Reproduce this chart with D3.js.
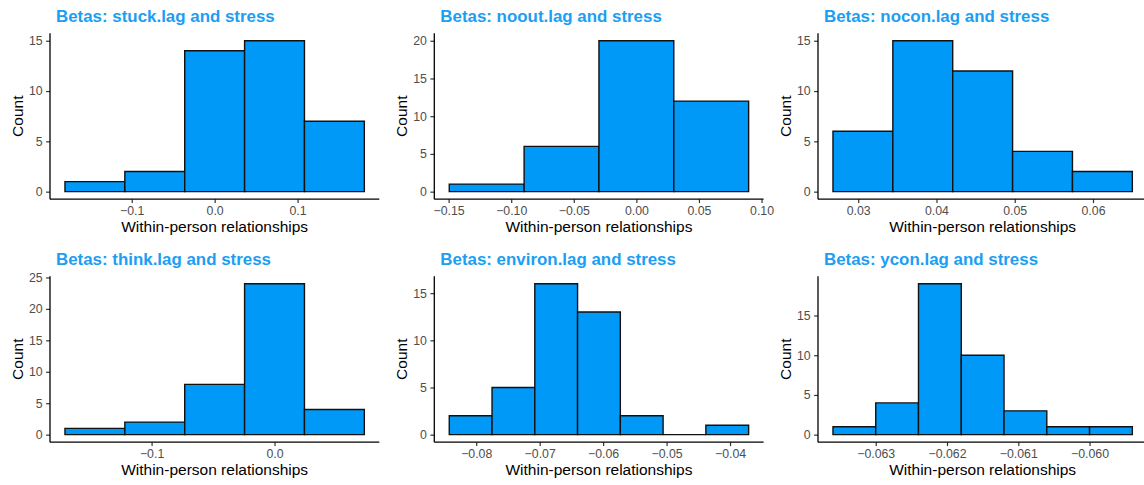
<!DOCTYPE html>
<html>
<head>
<meta charset="utf-8">
<script src="https://cdn.jsdelivr.net/npm/d3@7"></script>
<style>
  html, body { margin: 0; padding: 0; background: #ffffff; }
  svg { display: block; font-family: "Liberation Sans", Arial, Helvetica, sans-serif; }
</style>
</head>
<body>
<svg id="chart" width="1144" height="485"></svg>
<script>
// Histogram bins (edges) and counts of the person-level betas, one pair per predictor
const stuckEdges   = [-0.1805, -0.1083, -0.0361, 0.0361, 0.1083, 0.1805];
const stuckCounts  = [1, 2, 14, 15, 7];
const stuckTicks   = [-0.1, 0.0, 0.1];

const nooutEdges   = [-0.1495, -0.0897, -0.0299, 0.0299, 0.0897];
const nooutCounts  = [1, 6, 20, 12];
const nooutTicks   = [-0.15, -0.10, -0.05, 0.00, 0.05, 0.10];

const noconEdges   = [0.026775, 0.034425, 0.042075, 0.049725, 0.057375, 0.065025];
const noconCounts  = [6, 15, 12, 4, 2];
const noconTicks   = [0.03, 0.04, 0.05, 0.06];

const thinkEdges   = [-0.17045, -0.12175, -0.07305, -0.02435, 0.02435, 0.07305];
const thinkCounts  = [1, 2, 8, 24, 4];
const thinkTicks   = [-0.1, 0.0];

const environEdges  = [-0.08425, -0.07751, -0.07077, -0.06403, -0.05729, -0.05055, -0.04381, -0.03707];
const environCounts = [2, 5, 16, 13, 2, 0, 1];
const environTicks  = [-0.08, -0.07, -0.06, -0.05, -0.04];

const yconEdges    = [-0.0636, -0.0630, -0.0624, -0.0618, -0.0612, -0.0606, -0.0600, -0.0594];
const yconCounts   = [1, 4, 19, 10, 3, 1, 1];
const yconTicks    = [-0.063, -0.062, -0.061, -0.060];

const titles = [
  "Betas: stuck.lag and stress",
  "Betas: noout.lag and stress",
  "Betas: nocon.lag and stress",
  "Betas: think.lag and stress",
  "Betas: environ.lag and stress",
  "Betas: ycon.lag and stress"
];
const tickDigits = [1, 2, 2, 1, 2, 3];

const panels = [
  { edges: stuckEdges,   counts: stuckCounts,   ticks: stuckTicks },
  { edges: nooutEdges,   counts: nooutCounts,   ticks: nooutTicks },
  { edges: noconEdges,   counts: noconCounts,   ticks: noconTicks },
  { edges: thinkEdges,   counts: thinkCounts,   ticks: thinkTicks },
  { edges: environEdges, counts: environCounts, ticks: environTicks },
  { edges: yconEdges,    counts: yconCounts,    ticks: yconTicks }
].map((p, i) => Object.assign(p, { title: titles[i], digits: tickDigits[i] }));

// Layout of the 3 x 2 grid of panels
const colLeft = [50, 434.3, 818];
const rowTop = [33.2, 276.2];
const panelW = 329.3;
const panelH = 166;

const barFill = "#0099f7";
const titleColor = "#1c9ef2";
const tickLen = 3.9;

const svg = d3.select("#chart");

panels.forEach((p, i) => {
  const left = colLeft[i % 3];
  const top = rowTop[Math.floor(i / 3)];
  const g = svg.append("g").attr("transform", `translate(${left},${top})`);

  // 5% expansion on both axes, as in the original plotting defaults
  const x0 = p.edges[0], x1 = p.edges[p.edges.length - 1];
  const xPad = (x1 - x0) * 0.05;
  const x = d3.scaleLinear().domain([x0 - xPad, x1 + xPad]).range([0, panelW]);
  const yMax = d3.max(p.counts);
  const y = d3.scaleLinear().domain([-yMax * 0.05, yMax * 1.05]).range([panelH, 0]);

  const bins = p.counts.map((c, k) => ({ a: p.edges[k], b: p.edges[k + 1], n: c }));

  g.selectAll("path.bar")
    .data(bins)
    .join("path")
    .attr("class", "bar")
    .attr("d", d => `M${x(d.a)},${y(0)}V${y(d.n)}H${x(d.b)}V${y(0)}Z`)
    .attr("fill", barFill)
    .attr("stroke", "#111111")
    .attr("stroke-width", 1.4)
    .attr("stroke-linejoin", "miter");

  // x axis
  const xAxis = d3.axisBottom(x)
    .tickValues(p.ticks)
    .tickFormat(d3.format(`.${p.digits}f`))
    .tickSize(tickLen)
    .tickPadding(3.5);
  const gx = g.append("g").attr("transform", `translate(0,${panelH})`).call(xAxis);

  // y axis
  const yTicks = d3.range(0, yMax * 1.05 + 1e-9, 5);
  const yAxis = d3.axisLeft(y)
    .tickValues(yTicks)
    .tickFormat(d3.format("d"))
    .tickSize(tickLen)
    .tickPadding(3.5);
  const gy = g.append("g").call(yAxis);

  [gx, gy].forEach(ax => {
    ax.select(".domain").remove();
    ax.selectAll(".tick line").attr("stroke", "#333333").attr("stroke-width", 1.2);
    ax.selectAll(".tick text")
      .attr("fill", "#4d4d4d")
      .style("font-size", "12.3px")
      .style("font-family", '"Liberation Sans", Arial, Helvetica, sans-serif');
  });
  gx.selectAll(".tick text").attr("dy", "0.71em");

  // axis lines (classic theme)
  g.append("line")
    .attr("x1", 0).attr("x2", 0).attr("y1", 0).attr("y2", panelH)
    .attr("stroke", "#000000").attr("stroke-width", 1.3);
  g.append("line")
    .attr("x1", 0).attr("x2", panelW).attr("y1", panelH).attr("y2", panelH)
    .attr("stroke", "#000000").attr("stroke-width", 1.3);

  // axis titles
  g.append("text")
    .attr("x", panelW / 2)
    .attr("y", panelH + 33)
    .attr("text-anchor", "middle")
    .style("font-size", "15.5px")
    .attr("fill", "#000000")
    .text("Within-person relationships");

  g.append("text")
    .attr("transform", `translate(-27.5,${panelH / 2}) rotate(-90)`)
    .attr("text-anchor", "middle")
    .style("font-size", "15.5px")
    .attr("fill", "#000000")
    .text("Count");

  // panel title
  g.append("text")
    .attr("x", 6)
    .attr("y", -11.5)
    .style("font-size", "16.9px")
    .style("font-weight", "bold")
    .attr("fill", titleColor)
    .text(p.title);
});
</script>
</body>
</html>
